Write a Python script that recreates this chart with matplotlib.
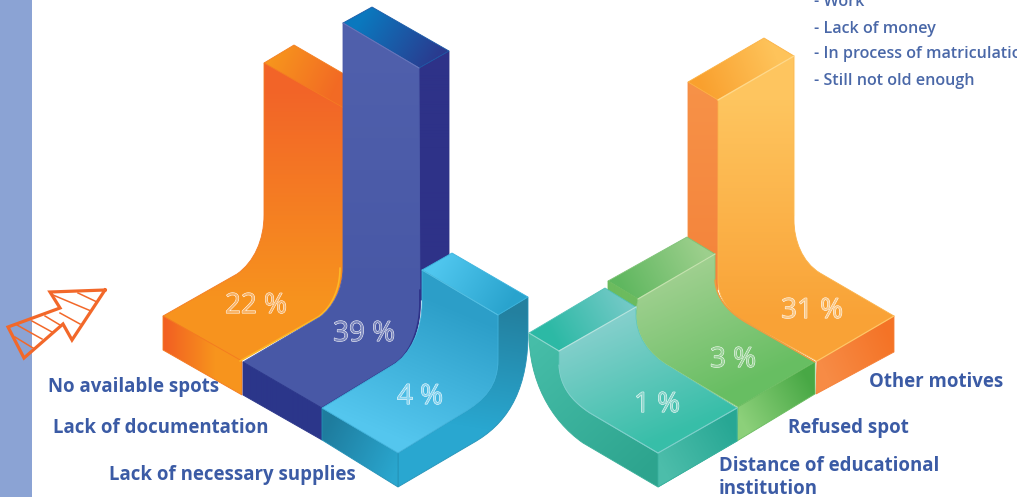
import numpy as np
import matplotlib
matplotlib.use("Agg")
import matplotlib.pyplot as plt
import matplotlib.patheffects as pe
from matplotlib.path import Path
from matplotlib.patches import PathPatch, Rectangle
from matplotlib.colors import to_rgb

W, H = 1017, 497
categories = ["No available spots", "Lack of documentation", "Lack of necessary supplies",
              "Distance of educational\ninstitution", "Refused spot", "Other motives"]
values = [22, 39, 4, 1, 3, 31]
value_tints = ["#F9B468", "#7F8ABF", "#86D4F0", "#8AD6CB", "#9AD398", "#FBC987"]
other_motives = ["- Work", "- Lack of money", "- In process of matriculation", "- Still not old enough"]

fig = plt.figure(figsize=(W / 100, H / 100), dpi=100)
ax = fig.add_axes([0, 0, 1, 1])
ax.set_xlim(0, W)
ax.set_ylim(H, 0)
ax.axis("off")
ax.add_patch(Rectangle((0, 0), 32, H, fc="#8BA3D4", ec="none", zorder=0))

yy, xx = np.mgrid[0:H, 0:W]


def mk(*items):
    v, c = [items[0]], [Path.MOVETO]
    for it in items[1:]:
        if len(it) == 2:
            v.append(it)
            c.append(Path.LINETO)
        else:
            v += [it[:2], it[2:4], it[4:6]]
            c += [Path.CURVE4] * 3
    v.append(items[0])
    c.append(Path.CLOSEPOLY)
    return Path(v, c)


z = [1]


def face(path, c0, c1, p0, p1, edge=None, lw=0.6):
    p0, p1 = np.array(p0, float), np.array(p1, float)
    d = p1 - p0
    t = np.clip(((xx + .5 - p0[0]) * d[0] + (yy + .5 - p0[1]) * d[1]) / (d @ d), 0, 1)[..., None]
    img = (1 - t) * np.array(to_rgb(c0)) + t * np.array(to_rgb(c1))
    z[0] += 1
    im = ax.imshow(img, extent=(0, W, H, 0), zorder=z[0], interpolation="nearest", aspect="auto")
    patch = PathPatch(path, fc="none", ec="none", transform=ax.transData)
    ax.add_patch(patch)
    im.set_clip_path(patch)
    mid = tuple((np.array(to_rgb(c0)) + np.array(to_rgb(c1))) / 2)
    z[0] += 1
    ax.add_patch(PathPatch(path, fc="none", ec=edge or mid, lw=lw, zorder=z[0]))


def edge(p, color, lw=1.0):
    z[0] += 1
    ax.plot(*zip(*p), color=color, lw=lw, zorder=z[0], solid_capstyle="round")


def curve_pts(a, b, c, d, n=24):
    t = np.linspace(0, 1, n)[:, None]
    a, b, c, d = map(np.array, (a, b, c, d))
    return ((1 - t) ** 3 * a + 3 * (1 - t) ** 2 * t * b + 3 * (1 - t) * t ** 2 * c + t ** 3 * d).tolist()


# ---- No available spots
face(mk((264, 63), (294, 45), (344, 74), (344, 112)), "#F7941D", "#F26A24", (272, 60), (335, 90))
face(mk((264, 63), (344, 108), (344, 268), (341, 290, 332, 308, 318, 317), (240, 361), (163, 316), (237, 274),
        (254, 262, 264, 240, 264, 215)), "#F26428", "#F7931E", (300, 90), (300, 300))
face(mk((163, 316), (242, 361), (242, 395), (163, 350)), "#F26022", "#F7941D", (165, 340), (215, 340))
edge(curve_pts((340, 268), (340, 290), (331, 308), (318, 317)) + [(240, 361)], "#FDB827", 1.2)

# ---- Lack of documentation
face(mk((449, 51), (449, 300), (419, 300), (419, 68)), "#2E3288", "#2E3288", (430, 0), (430, 300))
face(mk((343, 23), (372, 7), (449, 51), (419, 68)), "#0B78BE", "#2A3B8F", (365, 15), (435, 60))
face(mk((343, 23), (419, 68), (420, 303), (420, 330, 410, 355, 393, 365), (322, 408), (243, 362), (320, 317),
        (332, 308, 343, 290, 343, 268)), "#5060AC", "#4858A6", (380, 40), (380, 300))
face(mk((243, 362), (322, 408), (322, 440), (243, 395)), "#2B368A", "#2B368A", (243, 0), (322, 0))
edge([(420, 290)] + curve_pts((420, 303), (420, 330), (410, 355), (393, 365)) + [(322, 408)], "#2E3288", 1.3)
edge([(343, 23), (419, 68)], "#6676BC", 0.8)

# ---- Lack of necessary supplies
face(mk((498, 315), (528, 297), (528, 340), (526, 395, 505, 425, 473, 443), (398, 487), (398, 453), (463, 413),
        (485, 400, 498, 385, 498, 360)), "#23809F", "#29A7D0", (510, 310), (490, 430))
face(mk((322, 408), (398, 453), (398, 487), (322, 440)), "#1E7C9E", "#2AA6CE", (325, 430), (398, 465))
face(mk((422, 270), (452, 253), (528, 297), (498, 315)), "#4FC6EE", "#29A3CD", (440, 262), (510, 305))
face(mk((422, 270), (498, 315), (498, 360), (498, 385, 485, 400, 463, 413), (398, 453), (322, 408), (393, 365),
        (410, 355, 422, 330, 422, 303)), "#2C9EC8", "#54C6EE", (460, 310), (405, 440))
edge([(422, 270), (498, 315)], "#53BFE2", 0.7)

# ---- Other motives
face(mk((688, 82), (718, 100), (718, 290), (688, 260)), "#F79248", "#F4853C", (700, 80), (700, 260))
face(mk((688, 82), (764, 38), (794, 56), (718, 100)), "#F9A02E", "#FEC35A", (700, 85), (775, 55))
face(mk((718, 100), (794, 56), (794, 220), (794, 240, 802, 262, 820, 273), (894, 316), (817, 361), (747, 323),
        (728, 312, 718, 298, 718, 280)), "#FEC55F", "#F9A236", (760, 100), (760, 320))
face(mk((817, 361), (894, 316), (894, 352), (816, 394)), "#F78B45", "#F47326", (825, 370), (892, 340))
edge([(718, 100), (794, 56)], "#FFD98A", 1.0)
edge([(794, 56), (794, 215)], "#FFE0A8", 0.8)
edge([(817, 361), (894, 316)], "#FFC866", 0.9)

# ---- Refused spot
face(mk((608, 281), (687, 237), (715, 254), (638, 299)), "#5FB75F", "#9CCF8C", (620, 285), (700, 245))
face(mk((608, 281), (638, 299), (636, 307), (608, 292)), "#6CBB5E", "#6CBB5E", (608, 0), (636, 0))
face(mk((638, 299), (715, 254), (715, 280), (716, 298, 728, 312, 747, 323), (815, 362), (738, 407), (670, 367),
        (648, 355, 636, 335, 636, 315)), "#A0D090", "#67BE62", (680, 270), (735, 390))
face(mk((738, 407), (815, 362), (815, 394), (737, 441)), "#8CD07A", "#48A845", (745, 425), (812, 385))
edge([(638, 299), (715, 254)], "#C4E2AE", 0.9)
edge(curve_pts((715, 280), (716, 298), (728, 312), (747, 323)) + [(815, 362)], "#F59A3C", 1.0)
edge(curve_pts((636, 315), (636, 335), (648, 355), (670, 367)) + [(737, 408)], "#B3D77C", 1.0)

# ---- Distance of educational institution
face(mk((529, 333), (559, 351), (559, 365), (560, 385, 570, 400, 590, 413), (658, 453), (737, 408), (737, 441),
        (658, 487), (583, 443), (550, 420, 529, 380, 529, 333)), "#46BDA8", "#2DA48E", (535, 345), (650, 470))
face(mk((658, 453), (737, 408), (737, 441), (658, 487)), "#4CBDAA", "#27A794", (665, 470), (735, 430))
face(mk((529, 333), (605, 288), (636, 307), (559, 351)), "#2CB9A5", "#72C9C6", (555, 340), (625, 300))
face(mk((559, 351), (636, 307), (636, 315), (636, 335, 648, 355, 670, 367), (737, 408), (658, 453), (590, 413),
        (570, 400, 560, 385, 559, 365)), "#82CFCB", "#37BEA8", (600, 330), (650, 445))
edge([(559, 351), (636, 307)], "#B6E3DF", 0.9)
edge([(529, 333), (559, 351)], "#8FD8CE", 0.8)
edge(curve_pts((559, 365), (560, 385), (570, 400), (590, 413)) + [(658, 453), (737, 408)], "#7FD0CB", 0.8)

# ---- Arrow
z[0] += 1
arrow = [(105, 290), (50, 292), (60, 308), (8, 327), (24, 358), (63, 324), (72, 340)]
stripes = [((78, 293), (97, 302)), ((53, 295), (91, 311)), ((60, 313), (80, 324)), ((45, 316), (60, 325)),
           ((32, 321), (52, 332)), ((17, 325), (42, 339)), ((15, 337), (33, 348))]
for s in stripes:
    ax.plot(*zip(*s), color="#F2682A", lw=1.1, zorder=z[0])
ax.plot(*zip(*(arrow + arrow[:1])), color="#F2682A", lw=2.3, zorder=z[0] + 1, solid_joinstyle="miter")
z[0] += 2

# ---- Text
blue = "#3B5BA5"
font = "Open Sans"
label_pos = [(48, 387), (53, 428), (109, 475), (719, 466), (788, 428), (869, 382)]
for cat, (x, y) in zip(categories, label_pos):
    if "\n" in cat:
        ax.text(x, y - 10, cat, color=blue, fontsize=13.4, fontweight="bold", family=font, va="top",
                zorder=z[0], linespacing=1.2)
    else:
        ax.text(x, y, cat, color=blue, fontsize=13.4, fontweight="bold", family=font, va="center", zorder=z[0])

for item, y in zip(other_motives, [2, 29, 54, 81]):
    ax.text(814, y, item, color="#4A68A8", fontsize=11.6, fontweight="semibold", family=font, va="center", zorder=z[0])

pct_pos = [(256, 306), (364, 334), (420, 397), (657, 405), (733, 360), (812, 311)]
for v, tint, (x, y) in zip(values, value_tints, pct_pos):
    ax.text(x, y, f"{v} %", color=tint, fontsize=20, family="Open Sans", ha="center", va="center", zorder=z[0],
            path_effects=[pe.Stroke(linewidth=0.7, foreground="white"), pe.Normal()])

ax.set_xlim(0, W)
ax.set_ylim(H, 0)
fig.savefig("out.png", dpi=100)
